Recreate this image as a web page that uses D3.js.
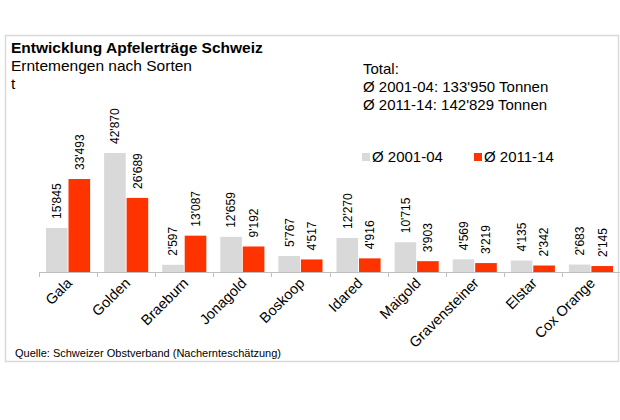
<!DOCTYPE html>
<html>
<head>
<meta charset="utf-8">
<script src="https://cdn.jsdelivr.net/npm/d3@7"></script>
<style>
  body { margin: 0; background: #fff; }
  svg text { font-family: "Liberation Sans", Arial, sans-serif; fill: #000; }
</style>
</head>
<body>
<svg id="chart"></svg>
<script>
// Data
const sorten = ["Gala", "Golden", "Braeburn", "Jonagold", "Boskoop", "Idared", "Maigold", "Gravensteiner", "Elstar", "Cox Orange"];
const serien = ["Ø 2001-04", "Ø 2011-14"];
const werte2001 = [15845, 42870, 2597, 12659, 5767, 12270, 10715, 4569, 4135, 2683];
const werte2011 = [33493, 26689, 13087, 9192, 4517, 4916, 3903, 3219, 2342, 2145];
const totalZeilen = ["Total:", "Ø 2001-04: 133'950 Tonnen", "Ø 2011-14: 142'829 Tonnen"];

const width = 620, height = 420;
const farben = ["#d9d9d9", "#ff3300"];

const svg = d3.select("#chart").attr("width", width).attr("height", height);

// frame
svg.append("rect")
  .attr("x", 5.5).attr("y", 35.5)
  .attr("width", 613).attr("height", 326)
  .attr("fill", "none")
  .attr("stroke", "#d9d9d9")
  .attr("stroke-width", 1.5);

// title block
svg.append("text").attr("x", 11).attr("y", 53)
  .style("font-size", "15.5px").style("font-weight", "bold")
  .text("Entwicklung Apfelerträge Schweiz");
svg.append("text").attr("x", 11).attr("y", 71)
  .style("font-size", "15.5px")
  .text("Erntemengen nach Sorten");
svg.append("text").attr("x", 11).attr("y", 89)
  .style("font-size", "15.5px")
  .text("t");

svg.append("g").selectAll("text")
  .data(totalZeilen)
  .join("text")
  .attr("x", 363)
  .attr("y", (d, i) => 74 + i * 18)
  .style("font-size", "15px")
  .text(d => d);

// scales
const x = d3.scaleBand().domain(sorten).range([39, 620]);
const xs = d3.scaleBand().domain(serien).range([7, x.bandwidth() - 7]).paddingInner(0.04);
const y = d3.scaleLinear().domain([0, 42870]).range([272, 153]);

const fmt = d3.formatLocale({ decimal: ".", thousands: "'", grouping: [3], currency: ["", ""] }).format(",d");

const daten = sorten.map((s, i) => ({ sorte: s, werte: [werte2001[i], werte2011[i]] }));

// bars
const gruppe = svg.append("g").selectAll("g")
  .data(daten)
  .join("g")
  .attr("transform", d => `translate(${x(d.sorte)},0)`);

gruppe.selectAll("rect")
  .data(d => d.werte.map((v, j) => ({ serie: serien[j], wert: v, j })))
  .join("rect")
  .attr("x", d => xs(d.serie))
  .attr("y", d => y(d.wert))
  .attr("width", xs.bandwidth())
  .attr("height", d => y(0) - y(d.wert))
  .attr("fill", d => farben[d.j]);

// value labels
gruppe.selectAll("text")
  .data(d => d.werte.map((v, j) => ({ serie: serien[j], wert: v })))
  .join("text")
  .attr("transform", d => `translate(${xs(d.serie) + xs.bandwidth() / 2 + 4.3},${y(d.wert) - 9}) rotate(-90)`)
  .style("font-size", "12px")
  .text(d => fmt(d.wert));

// axis baseline with ticks between categories
const achse = svg.append("g").attr("stroke", "#bfbfbf").attr("stroke-width", 1);
achse.append("line")
  .attr("x1", x.range()[0]).attr("x2", x.range()[1])
  .attr("y1", 272.5).attr("y2", 272.5);
achse.selectAll(".tick")
  .data(sorten.map(s => x(s)).concat([x.range()[1]]))
  .join("line")
  .attr("class", "tick")
  .attr("x1", d => Math.round(d) + 0.5).attr("x2", d => Math.round(d) + 0.5)
  .attr("y1", 272).attr("y2", 277);

// category labels
svg.append("g").selectAll("text")
  .data(sorten)
  .join("text")
  .attr("text-anchor", "end")
  .attr("transform", d => `translate(${x(d) + x.bandwidth() / 2 + 5},${284}) rotate(-45)`)
  .style("font-size", "14.5px")
  .text(d => d);

// legend
const legende = svg.append("g").selectAll("g")
  .data(serien)
  .join("g")
  .attr("transform", (d, i) => `translate(${362 + i * 112},153)`);
legende.append("rect")
  .attr("width", 8).attr("height", 8)
  .attr("fill", (d, i) => farben[i]);
legende.append("text")
  .attr("x", 10).attr("y", 9)
  .style("font-size", "15px")
  .text(d => d);

// source
svg.append("text").attr("x", 15).attr("y", 357)
  .style("font-size", "11px")
  .text("Quelle: Schweizer Obstverband (Nachernteschätzung)");
</script>
</body>
</html>
